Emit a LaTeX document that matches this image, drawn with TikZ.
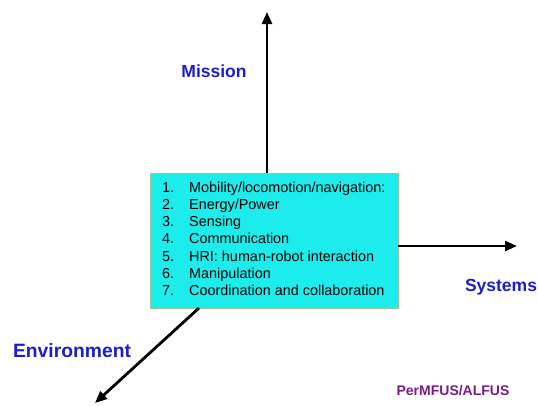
\documentclass[tikz,border=0pt]{standalone}
\usepackage{fontspec}
\setmainfont{Liberation Sans}
\usetikzlibrary{arrows.meta}
\definecolor{boxcyan}{RGB}{28,236,236}
\definecolor{boxedge}{RGB}{150,200,150}
\definecolor{lblblue}{RGB}{30,30,200}
\definecolor{lblpurple}{RGB}{120,30,130}
\begin{document}
\begin{tikzpicture}[x=1pt,y=-1pt,
  axis/.style={line width=2.8pt,-{Triangle[length=12pt,width=10pt]}},
  axlabel/.style={font=\fontsize{17.5}{20}\selectfont\bfseries,text=lblblue,inner sep=0pt},
  item/.style={font=\fontsize{14.4}{16}\selectfont,anchor=base west,inner sep=0pt}]
\useasboundingbox[fill=white] (0,0) rectangle (538,405);
\node[draw=boxedge,line width=0.8pt,fill=boxcyan,minimum width=248pt,minimum height=135pt,inner sep=0pt] (box) at (274,240.5) {};
\coordinate (top) at (267,12);
\coordinate (right) at (517,246);
\coordinate (down) at (95,403);
\draw[axis] (267,173) -- (top);
\draw[axis] (398,246) -- (right);
\draw[axis] (199,308) -- (down);
\node[axlabel] (mission) at (214,71) {Mission};
\node[axlabel] (systems) at (501,287) {Systems};
\node[axlabel,font=\fontsize{19.3}{21}\selectfont\bfseries] (env) at (72,351) {Environment};
\node[font=\fontsize{14}{16}\selectfont\bfseries,text=lblpurple,inner sep=0pt] (perm) at (453,391) {PerMFUS/ALFUS};
\foreach \n/\t [count=\i] in {1/{Mobility/locomotion/navigation:},2/{Energy/Power},3/{Sensing},4/{Communication},5/{HRI: human-robot interaction},6/{Manipulation},7/{Coordination and collaboration}}{
  \node[item] (num\i) at (162,{192+17.3*(\i-1)}) {\n.};
  \node[item] (txt\i) at (189,{192+17.3*(\i-1)}) {\t};
}
\end{tikzpicture}
\end{document}
